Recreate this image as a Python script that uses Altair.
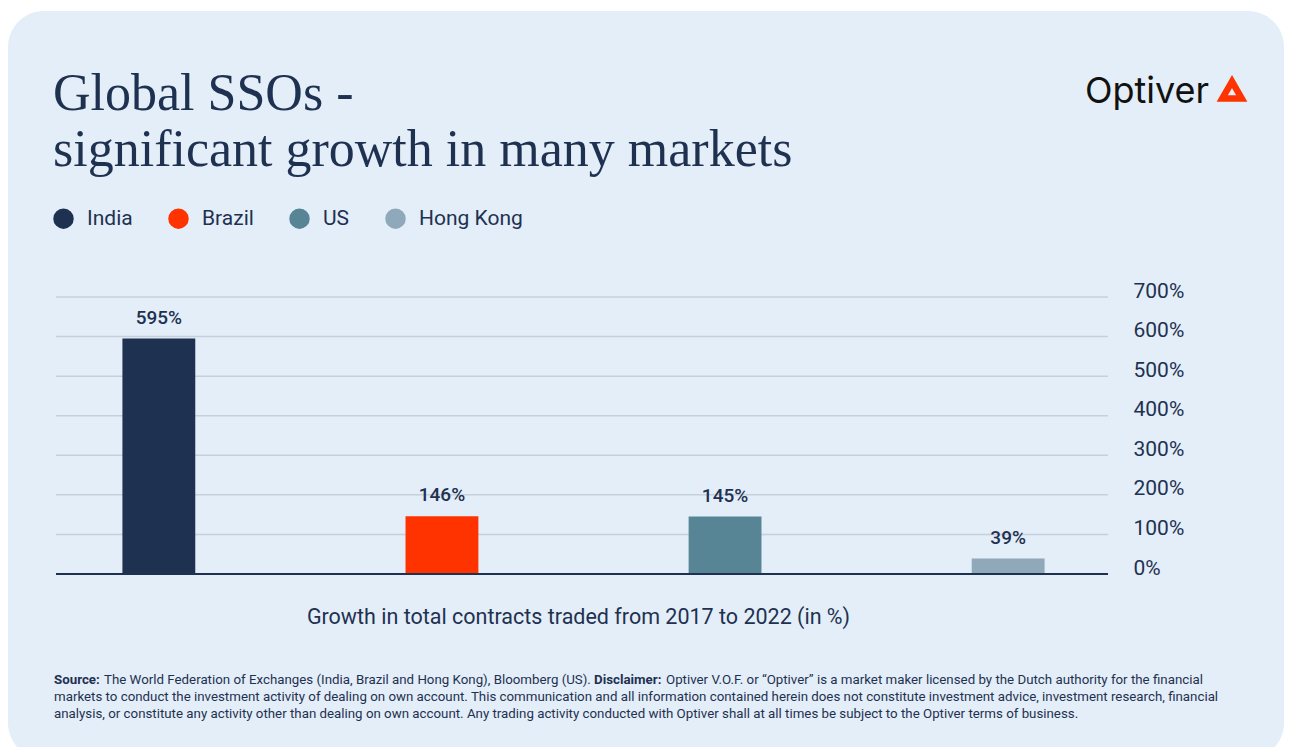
import altair as alt
import pandas as pd

countries = ["India", "Brazil", "US", "Hong Kong"]
growth = [595, 146, 145, 39]
colors = ["#1f3151", "#ff3300", "#578595", "#8fa8ba"]
y_ticks = [0, 100, 200, 300, 400, 500, 600, 700]

title_line1 = "Global SSOs -"
title_line2 = "significant growth in many markets"
x_title = "Growth in total contracts traded from 2017 to 2022 (in %)"
logo_text = "Optiver"
foot_src_b = "Source:"
foot_src = "The World Federation of Exchanges (India, Brazil and Hong Kong), Bloomberg (US)."
foot_disc_b = "Disclaimer:"
foot_disc = "Optiver V.O.F. or \u201cOptiver\u201d is a market maker licensed by the Dutch authority for the financial"
foot_line2 = ("markets to conduct the investment activity of dealing on own account. This communication and all "
              "information contained herein does not constitute investment advice, investment research, financial")
foot_line3 = ("analysis, or constitute any activity other than dealing on own account. Any trading activity "
              "conducted with Optiver shall at all times be subject to the Optiver terms of business.")

NAVY = "#1f3151"
BG = "#e3eef8"
GRID = "#c6d0da"

df = pd.DataFrame({"country": countries, "growth": growth})
ticks_df = pd.DataFrame({"growth": y_ticks})

x_scale = alt.Scale(range=[3, 1052], paddingInner=0.7427, paddingOuter=0.224)
y_scale = alt.Scale(domain=[0, 700], nice=False)

x_axis = alt.Axis(title=x_title, labels=False, ticks=False, domain=False,
                  grid=False, zindex=1, titleX=522,
                  titleFont="Roboto", titleFontSize=21.5, titleFontWeight="normal",
                  titleColor=NAVY, titlePadding=32)
y_axis = alt.Axis(orient="right", title=None, values=y_ticks, tickCount=8,
                  grid=False, ticks=False, domain=False, zindex=1,
                  labelFont="Roboto", labelFontSize=21, labelColor=NAVY,
                  labelPadding=25, labelBaseline="alphabetic", labelOverlap=False,
                  labelExpr="datum.value + '%'")

y_enc = alt.Y("growth:Q", scale=y_scale, axis=y_axis)
x_enc = alt.X("country:N", sort=countries, scale=x_scale, axis=x_axis)

card = alt.Chart(pd.DataFrame({"t": ["card"]})).mark_rect(
    color=BG, cornerRadius=36
).encode(x=alt.value(-48), x2=alt.value(1228), y=alt.value(-286), y2=alt.value(462))

grid = alt.Chart(ticks_df).mark_rule(color=GRID, strokeWidth=1.5).encode(y=y_enc)

bars = alt.Chart(df).mark_bar().encode(
    x=x_enc,
    y=y_enc,
    color=alt.Color("country:N", sort=countries,
                    scale=alt.Scale(domain=countries, range=colors),
                    legend=alt.Legend(title=None, orient="none", legendX=-3, legendY=-89,
                                      direction="horizontal", symbolType="circle",
                                      symbolSize=420, symbolStrokeWidth=0, symbolOpacity=1,
                                      labelFont="Roboto", labelFontSize=21, labelColor=NAVY,
                                      labelOffset=13, columnPadding=35)),
)

baseline = alt.Chart(ticks_df).transform_filter("datum.growth == 0").mark_rule(
    color=NAVY, strokeWidth=2
).encode(y=y_enc)

labels = alt.Chart(df).transform_calculate(lbl="datum.growth + '%'").mark_text(
    font="Roboto", fontSize=19, fontWeight=500, color=NAVY, baseline="alphabetic", dy=-15
).encode(x=x_enc, y=y_enc, text="lbl:N")


def note(text, x, y, size=13.3, weight="normal", font="Roboto", color=NAVY, align="left"):
    return alt.Chart(pd.DataFrame({"t": [text]})).mark_text(
        font=font, fontSize=size, fontWeight=weight, color=color, align=align,
        baseline="alphabetic"
    ).encode(x=alt.value(x), y=alt.value(y), text="t:N")


t1 = note(title_line1, -3, -187, size=52, font="Liberation Serif")
t2 = note(title_line2, -3, -131, size=52, font="Liberation Serif")

logo = note(logo_text, 1029, -194, size=36, font="Inter", color="#111111")
tri = alt.Chart(pd.DataFrame({"t": [logo_text]})).mark_point(
    shape="triangle-up", filled=False, stroke="#ff3300", strokeWidth=6.5,
    strokeJoin="miter", size=380, opacity=1
).encode(x=alt.value(1176), y=alt.value(-207))

f1 = note(foot_src_b, -2, 387, weight="bold")
f2 = note(foot_src, 48, 387)
f3 = note(foot_disc_b, 538, 387, weight="bold")
f4 = note(foot_disc, 610, 387)
f5 = note(foot_line2, -2, 404)
f6 = note(foot_line3, -2, 421)

chart = alt.layer(card, grid, bars, baseline, labels, t1, t2, logo, tri,
                  f1, f2, f3, f4, f5, f6).properties(
    width=1052, height=277,
    autosize=alt.AutoSizeParams(type="none"),
    padding={"left": 48, "top": 289, "right": 176, "bottom": 173},
    background="#ffffff",
).configure_view(stroke=None)

chart.save("out.html", embed_options={"renderer": "svg", "actions": False})
